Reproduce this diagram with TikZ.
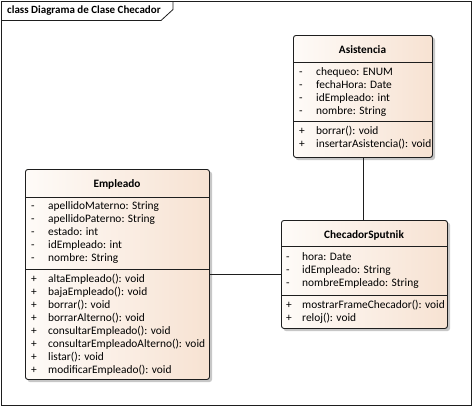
\documentclass[tikz,border=0pt]{standalone}
\usepackage{fontspec}
\setmainfont{Carlito}
\definecolor{boxL}{RGB}{254,251,248}
\definecolor{boxR}{RGB}{247,226,210}
\definecolor{lineC}{RGB}{30,30,30}
\definecolor{shadowC}{RGB}{175,175,175}
\tikzset{
  classbox/.style={draw=lineC, line width=0.9pt, rounded corners=2.5pt, left color=boxL, right color=boxR, anchor=north west, inner sep=0pt},
  shadowbox/.style={fill=shadowC, rounded corners=2.5pt, opacity=0.7},
  sepline/.style={draw=lineC, line width=0.8pt},
  ctitle/.style={font=\fontsize{11.3}{13}\selectfont\bfseries, inner sep=0pt, text height=8pt, text depth=2.5pt},
  row/.style={font=\fontsize{11.4}{13}\selectfont, inner sep=0pt, anchor=west, text height=8pt, text depth=2.5pt},
  conn/.style={draw=lineC, line width=0.9pt},
}
\begin{document}
\begin{tikzpicture}[x=1pt,y=-1pt]
\useasboundingbox (0,0) rectangle (473,407);
% frame
\draw[lineC, line width=0.8pt] (1,1) rectangle (471.5,405.5);
\coordinate (tabA) at (1,20.5);
\coordinate (tabB) at (161,20.5);
\coordinate (tabC) at (173,9.5);
\coordinate (tabD) at (173,1);
\draw[lineC, line width=0.8pt] (tabA) -- (tabB) -- (tabC) -- (tabD);
\node[anchor=west, inner sep=0pt, font=\fontsize{11}{12}\selectfont\bfseries, text height=8pt, text depth=2.5pt] (ftitle) at (7,10.5) {class Diagrama de Clase Checador};

% shadows
\fill[shadowbox] (295.5,37.5) rectangle (435,160);
\fill[shadowbox] (27.5,171.5) rectangle (212,382);
\fill[shadowbox] (283.5,222.5) rectangle (450,331);

% ===== Asistencia =====
\node[classbox, minimum width=139pt, minimum height=122pt] (asis) at (293,35) {};
\draw[sepline] (293,62) -- (432,62);
\draw[sepline] (293,121) -- (432,121);
\node[ctitle] (asisT) at (362.5,50.5) {Asistencia};
\begin{scope}
\clip (293,35) rectangle (432,157);
\foreach \y/\s/\t [count=\i] in {73/-/{chequeo: ENUM},86/-/{fechaHora: Date},99/-/{idEmpleado: int},112/-/{nombre: String},132/+/{borrar(): void},145/+/{insertarAsistencia(): void}}{
  \node[row] (asisS\i) at (299,\y) {\s};
  \node[row] (asisR\i) at (316,\y) {\t};
}
\end{scope}

% ===== Empleado =====
\node[classbox, minimum width=184pt, minimum height=210pt] (emp) at (25,169) {};
\draw[sepline] (25,197) -- (209,197);
\draw[sepline] (25,269) -- (209,269);
\node[ctitle] (empT) at (117,185) {Empleado};
\foreach \y/\s/\t [count=\i] in {207/-/{apellidoMaterno: String},220/-/{apellidoPaterno: String},233/-/{estado: int},246/-/{idEmpleado: int},259/-/{nombre: String},280/+/{altaEmpleado(): void},293/+/{bajaEmpleado(): void},306/+/{borrar(): void},319/+/{borrarAlterno(): void},332/+/{consultarEmpleado(): void},345/+/{consultarEmpleadoAlterno(): void},358/+/{listar(): void},371/+/{modificarEmpleado(): void}}{
  \node[row] (empS\i) at (31,\y) {\s};
  \node[row] (empR\i) at (48,\y) {\t};
}

% ===== ChecadorSputnik =====
\node[classbox, minimum width=166pt, minimum height=108pt] (chec) at (281,220) {};
\draw[sepline] (281,246.5) -- (447,246.5);
\draw[sepline] (281,295) -- (447,295);
\node[ctitle] (checT) at (364,235.5) {ChecadorSputnik};
\begin{scope}
\clip (281,220) rectangle (447,328);
\foreach \y/\s/\t [count=\i] in {257.5/-/{hora: Date},270.5/-/{idEmpleado: String},283.5/-/{nombreEmpleado: String},306/+/{mostrarFrameChecador(): void},319/+/{reloj(): void}}{
  \node[row] (checS\i) at (286,\y) {\s};
  \node[row] (checR\i) at (302,\y) {\t};
}
\end{scope}

% connectors
\draw[conn] (asis.south) -- (asis.south |- chec.north);
\draw[conn] (emp.east) -- (emp.east -| chec.west);
\end{tikzpicture}
\end{document}
